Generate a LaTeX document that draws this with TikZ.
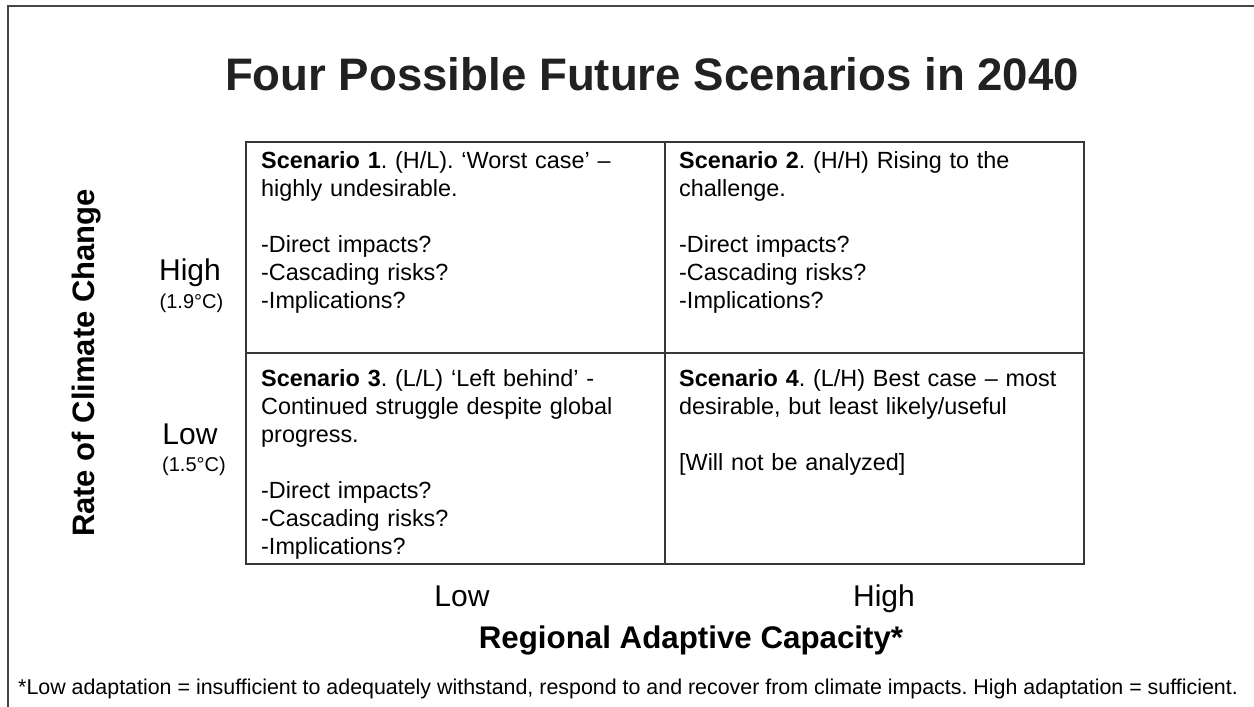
\documentclass[tikz,border=0pt]{standalone}
\usepackage{fontspec}
\setmainfont{Liberation Sans}
\usepackage{tikz}
\usetikzlibrary{positioning}
\definecolor{InkD}  {RGB}{33, 33, 33}
\definecolor{GridG} {RGB}{55, 55, 55}
\definecolor{FrameG}{RGB}{70, 70, 70}
\newcommand{\fsz}[2]{\fontsize{#1}{#2}\selectfont}

\begin{document}
\frenchspacing
\begin{tikzpicture}[x=1pt,y=-1pt,
    cell/.style={draw=GridG,line width=1.6pt,minimum width=419pt,
      minimum height=211pt,inner sep=0pt,outer sep=0pt},
    celltext/.style={anchor=north west,inner sep=0pt,text width=400pt,
      align=left,font=\fsz{23.4}{28}},
    axlbl/.style={anchor=base,inner sep=0pt,font=\fsz{30}{36}},
    axsub/.style={anchor=base,inner sep=0pt,font=\fsz{20}{24}}]
  \useasboundingbox (0,0) rectangle (1254,707);
  \draw[FrameG,line width=1.6pt] (8,707)--(8,6)--(1254,6);
  % heading
  \node[anchor=base,inner sep=0pt,text=InkD,font=\bfseries\fsz{45.6}{55}]
    (title) at (652,90) {Four Possible Future Scenarios in 2040};
  % 2x2 scenario grid
  \node[cell] (s1) at (455.5,247.5) {};
  \node[cell,right=0pt of s1] (s2) {};
  \node[cell,below=0pt of s1] (s3) {};
  \node[cell,right=0pt of s3] (s4) {};
  \node[celltext] (t1) at ([xshift=15pt,yshift=-9pt]s1.north west)
    {\textbf{Scenario 1}. (H/L). ‘Worst case’ –\\highly undesirable.\\[28pt]
     -Direct impacts?\\-Cascading risks?\\-Implications?};
  \node[celltext] (t2) at ([xshift=14pt,yshift=-9pt]s2.north west)
    {\textbf{Scenario 2}. (H/H) Rising to the\\challenge.\\[28pt]
     -Direct impacts?\\-Cascading risks?\\-Implications?};
  \node[celltext] (t3) at ([xshift=15pt,yshift=-16pt]s3.north west)
    {\textbf{Scenario 3}. (L/L) ‘Left behind’ -\\Continued struggle despite global\\progress.\\[28pt]
     -Direct impacts?\\-Cascading risks?\\-Implications?};
  \node[celltext] (t4) at ([xshift=14pt,yshift=-16pt]s4.north west)
    {\textbf{Scenario 4}. (L/H) Best case – most\\desirable, but least likely/useful\\[28pt]
     [Will not be analyzed]};
  % vertical axis
  \node[axlbl] (yhi) at (190,280) {High};
  \node[axsub] (yhiT) at (191.5,308) {(1.9°C)};
  \node[axlbl] (ylo) at (190,444) {Low};
  \node[axsub] (yloT) at (194,471) {(1.5°C)};
  \node[axlbl,font=\bfseries\fsz{31}{36},rotate=90] (ycap) at (94,363)
    {Rate of Climate Change};
  % horizontal axis
  \node[axlbl] (xlo) at (462,606) {Low};
  \node[axlbl] (xhi) at (884,606) {High};
  \node[axlbl,font=\bfseries\fsz{31.3}{36}] (xcap) at (691,648)
    {Regional Adaptive Capacity*};
  % footnote
  \node[anchor=base west,inner sep=0pt,font=\fsz{21.4}{25}] (note) at (18,694)
    {*Low adaptation = insufficient to adequately withstand, respond to and recover from climate impacts. High adaptation = sufficient.};
\end{tikzpicture}
\end{document}
